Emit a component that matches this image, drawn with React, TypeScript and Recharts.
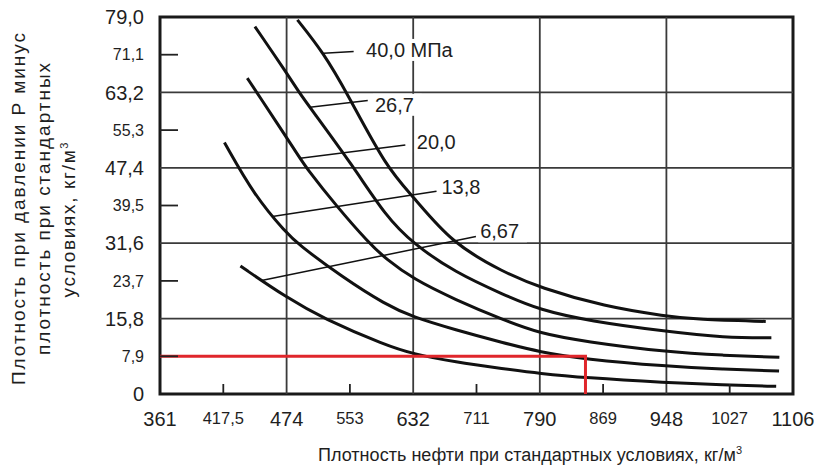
import React from 'react';
import { LineChart, Line, XAxis, YAxis, ReferenceLine, ReferenceArea, ReferenceDot } from 'recharts';

const FONT = '"Liberation Sans", Arial, Helvetica, sans-serif';
const INK = '#1e1e1e';

// X axis (kg/m3) tick labels – evenly spaced on the original chart
const xTickValues = [361, 417.5, 474, 553, 632, 711, 790, 869, 948, 1027, 1106];
const xTickLabels = ['361', '417,5', '474', '553', '632', '711', '790', '869', '948', '1027', '1106'];
const xGridValues = [474, 632, 790, 948];

// Y axis (kg/m3)
const yTickValues = [0, 7.9, 15.8, 23.7, 31.6, 39.5, 47.4, 55.3, 63.2, 71.1, 79];
const yTickLabels = ['0', '7,9', '15,8', '23,7', '31,6', '39,5', '47,4', '55,3', '63,2', '71,1', '79,0'];
const yGridValues = [15.8, 31.6, 47.4, 63.2];

// Curves: [density at std conditions, density increase]
const curve40 = [[487.5, 78.4], [520, 71.5], [549, 63.2], [599, 47.3], [632, 41.4], [680, 31.6], [745, 25.5], [790, 22.3], [871, 18.3], [948, 16.3], [986, 15.6], [1072, 15.2]];
const curve267 = [[445.7, 77.0], [474, 67.3], [489.6, 63.2], [503, 60.1], [557, 47.75], [598, 37.2], [632, 31.5], [684, 25.5], [745, 20.8], [790, 17.6], [852, 15.3], [948, 13.1], [1021, 11.8], [1079, 11.8]];
const curve200 = [[438.9, 66.2], [447.4, 63.2], [491, 49.4], [497, 47.75], [536.5, 39.3], [577, 31.6], [598, 28.3], [632, 24.1], [684, 19.8], [745, 15.5], [790, 12.7], [846, 11.0], [948, 8.8], [1018, 8.1], [1089, 7.7]];
const curve138 = [[418.5, 52.7], [445.7, 41.4], [474, 33.7], [487.5, 31.5], [542.6, 24.6], [597.7, 18.7], [632, 16.1], [683.6, 13.5], [745, 10.7], [790, 8.8], [845.7, 7.3], [948, 5.8], [1017.7, 5.2], [1088.6, 4.8]];
const curve667 = [[432.8, 26.8], [474, 20.2], [520, 15.8], [598, 10.2], [632, 8.4], [684, 6.7], [745, 5.3], [790, 4.3], [846, 3.4], [948, 2.4], [1018, 1.9], [1085, 1.6]];
const curves = [curve667, curve138, curve200, curve267, curve40];

// Example reading (red)
const redPath = [[361, 7.9], [847, 7.9], [847, 0]];

// Curve labels and leader lines
const pressureLabels = ['6,67', '13,8', '20,0', '26,7', '40,0 МПа'];
const labelAnchors = [[715.6, 34.1], [667.3, 43.4], [636.5, 52.9], [584.2, 60.6], [573.2, 72.1]];
const leaders = [
  [451.6, 23.8, 710.3, 33.0],
  [461.3, 37.2, 661.1, 42.5],
  [491.1, 49.4, 622.2, 52.2],
  [503.0, 60.1, 575.3, 61.5],
  [520.2, 71.4, 557.7, 71.75],
];

// piecewise mapping of a kg/m3 value onto the evenly spaced tick positions
const toPos = (v: number) => {
  for (let i = 0; i < xTickValues.length - 1; i++) {
    const a = xTickValues[i];
    const b = xTickValues[i + 1];
    if (v <= b || i === xTickValues.length - 2) return i + (v - a) / (b - a);
  }
  return 0;
};
const toSeries = (pts: number[][]) => pts.map(([x, y]) => ({ p: toPos(x), y }));
const xTickPositions = xTickValues.map((_, i) => i);

const XTick = (props: any) => {
  const { x, y, payload } = props;
  const i = Math.round(payload.value);
  const major = i % 2 === 0;
  const fs = major ? 20 : 16.5;
  return (
    <g>
      {!major && <line x1={x} x2={x} y1={y - 18} y2={y - 28} stroke="#222" strokeWidth={1.8} />}
      <text x={x} y={y + fs * 0.72} textAnchor="middle" fontSize={fs} fontFamily={FONT} fill={INK}>
        {xTickLabels[i]}
      </text>
    </g>
  );
};

const YTick = (props: any) => {
  const { x, y, payload } = props;
  let i = 0;
  yTickValues.forEach((v, k) => {
    if (Math.abs(v - payload.value) < 1e-6) i = k;
  });
  const major = i % 2 === 0;
  const fs = major ? 20 : 16;
  return (
    <g>
      {!major && <line x1={x + 16} x2={x + 34} y1={y} y2={y} stroke="#222" strokeWidth={1.8} />}
      <text x={x} y={y} dy={fs * 0.36} textAnchor="end" fontSize={fs} fontFamily={FONT} fill={INK}>
        {yTickLabels[i]}
      </text>
    </g>
  );
};

const YTitle = () => (
  <g fill={INK} fontFamily={FONT} fontSize={19}>
    <text transform="rotate(-90)" x={-209} y={17} textAnchor="middle" textLength={352} lengthAdjust="spacing">
      Плотность при давлении Р минус
    </text>
    <text transform="rotate(-90)" x={-209} y={41.5} textAnchor="middle" textLength={292} lengthAdjust="spacing">
      плотность при стандартных
    </text>
    <text transform="rotate(-90)" x={-220} y={67} textAnchor="middle" textLength={155} lengthAdjust="spacing">
      условиях, кг/м<tspan dy={-7} fontSize={11}>3</tspan>
    </text>
  </g>
);

const XTitle = () => (
  <text x={522} y={461} textAnchor="middle" fill={INK} fontFamily={FONT} fontSize={18} textLength={424} lengthAdjust="spacing">
    Плотность нефти при стандартных условиях, кг/м<tspan dy={-7} fontSize={11}>3</tspan>
  </text>
);

const makeLabel = (text: string) => (props: any) => {
  const { cx, cy } = props;
  const fs = 20;
  const w = text.length * 0.56 * fs;
  return (
    <g>
      <rect x={cx - 2} y={cy - fs * 0.55} width={w + 4} height={fs * 1.1} fill="#fff" />
      <text x={cx} y={cy} dy={fs * 0.36} fontSize={fs} fontFamily={FONT} fill={INK}>
        {text}
      </text>
    </g>
  );
};

export default function App() {
  return (
    <div style={{ width: 814, height: 472, marginTop: -8 }}>
      <LineChart width={814} height={472} margin={{ top: 17, right: 29, bottom: 38, left: 72 }}>
        <XAxis
          type="number"
          dataKey="p"
          domain={[0, 10]}
          ticks={xTickPositions}
          interval={0}
          height={40}
          tickSize={0}
          tickMargin={18}
          axisLine={false}
          tickLine={false}
          tick={XTick}
          allowDataOverflow
          label={<XTitle />}
        />
        <YAxis
          type="number"
          dataKey="y"
          domain={[0, 79]}
          ticks={yTickValues}
          interval={0}
          width={80}
          tickSize={0}
          tickMargin={16}
          axisLine={false}
          tickLine={false}
          tick={YTick}
          allowDataOverflow
          label={<YTitle />}
        />
        {xGridValues.map((v) => (
          <ReferenceLine key={'gx' + v} x={toPos(v)} stroke="#3a3a3a" strokeWidth={1.8} />
        ))}
        {yGridValues.map((v) => (
          <ReferenceLine key={'gy' + v} y={v} stroke="#3a3a3a" strokeWidth={1.8} />
        ))}
        {pressureLabels.map((t, i) => (
          <ReferenceDot
            key={'lab' + i}
            x={toPos(labelAnchors[i][0])}
            y={labelAnchors[i][1]}
            r={0}
            shape={makeLabel(t)}
          />
        ))}
        {curves.map((c, i) => (
          <Line
            key={'c' + i}
            data={toSeries(c)}
            dataKey="y"
            type="basis"
            stroke="#111"
            strokeWidth={3}
            dot={false}
            activeDot={false}
            isAnimationActive={false}
          />
        ))}
        {leaders.map((l, i) => (
          <ReferenceLine
            key={'ld' + i}
            segment={[
              { x: toPos(l[0]), y: l[1] },
              { x: toPos(l[2]), y: l[3] },
            ]}
            stroke="#111"
            strokeWidth={1.5}
          />
        ))}
        <Line
          data={toSeries(redPath)}
          dataKey="y"
          type="linear"
          stroke="#e0262b"
          strokeWidth={3}
          dot={false}
          activeDot={false}
          isAnimationActive={false}
        />
        <ReferenceArea x1={0} x2={10} y1={0} y2={79} fill="none" fillOpacity={0} stroke="#1a1a1a" strokeWidth={3} ifOverflow="visible" />
      </LineChart>
    </div>
  );
}
